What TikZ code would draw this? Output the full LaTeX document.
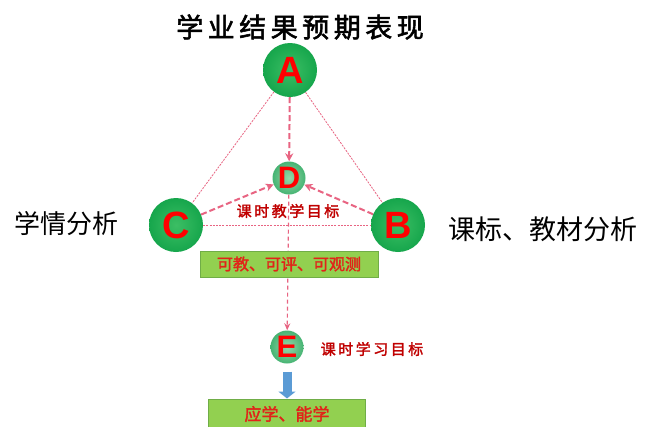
\documentclass[tikz,border=0pt]{standalone}
\usepackage{fontspec}
\setmainfont{Liberation Sans}
\newfontfamily\cjk{Noto Sans CJK SC}
\newfontfamily\cjkb[FakeBold=2]{Noto Sans CJK SC}
\usetikzlibrary{arrows.meta}
\definecolor{ballgreen}{RGB}{22,166,76}
\definecolor{ballgreenL}{RGB}{60,190,100}
\definecolor{smallgreen}{RGB}{70,180,115}
\definecolor{smallgreenL}{RGB}{150,215,170}
\definecolor{pinkline}{RGB}{232,100,130}
\definecolor{boxgreen}{RGB}{146,208,80}
\definecolor{boxedge}{RGB}{112,173,71}
\definecolor{labelred}{RGB}{192,0,0}
\definecolor{boxred}{RGB}{225,35,25}
\definecolor{letterred}{RGB}{255,0,0}
\definecolor{arrowblue}{RGB}{91,155,213}
\pgfdeclarelayer{bg}
\pgfdeclarelayer{paper}
\pgfsetlayers{paper,bg,main}
\tikzset{
  bigball/.style={circle, minimum size=54pt, inner sep=0pt, shading=radial,
    inner color=ballgreenL, outer color=ballgreen, text=letterred,
    font=\fontsize{38}{38}\selectfont\bfseries},
  smallball/.style={circle, minimum size=33pt, inner sep=0pt, shading=radial,
    inner color=smallgreenL, outer color=smallgreen, text=letterred,
    font=\fontsize{31}{31}\selectfont\bfseries},
  bigtext/.style={font=\fontsize{26}{26}\selectfont\cjk, text=black, inner sep=0pt},
  tag/.style={font=\fontsize{15}{15}\selectfont\cjkb, text=labelred, inner sep=0pt},
  greenbox/.style={draw=boxedge, line width=1pt, fill=boxgreen, inner sep=0pt,
    text=boxred, font=\fontsize{16}{16}\selectfont\cjkb},
  thinpink/.style={draw=pinkline, line width=0.8pt, dash pattern=on 2pt off 1.2pt},
  thickdash/.style={draw=pinkline, line width=2pt, dash pattern=on 6pt off 3pt,
    -{Stealth[length=8pt,width=8pt]}},
  thindash/.style={draw=pinkline, line width=1.2pt, dash pattern=on 4pt off 3pt,
    -{Stealth[length=7pt,width=6pt]}},
  bluearrow/.style={draw=arrowblue, line width=9pt,
    -{Triangle[length=7pt,width=17pt]}, shorten <=8pt}
}
\begin{document}
\begin{tikzpicture}[x=1pt,y=-1pt]
\useasboundingbox (0,0) rectangle (647,426);
\begin{pgfonlayer}{paper}
\fill[white] (0,0) rectangle (647,426);
\end{pgfonlayer}
\node[bigtext, font=\fontsize{27}{27}\selectfont\cjkb] (title) at (300,27) {学\,业\,结\,果\,预\,期\,表\,现};
\node[bigtext] (lefttext) at (66,224) {学情分析};
\node[bigtext, font=\fontsize{27}{27}\selectfont\cjk] (righttext) at (543,229) {课标、教材分析};
\node[bigball] (A) at (290,70) {A};
\node[bigball] (C) at (176,225) {C};
\node[bigball] (B) at (398,225) {B};
\node[smallball] (D) at (289,178) {D};
\node[smallball] (E) at (287,347) {E};
\node[tag] (teach) at (288,211) {课\,时\,教\,学\,目\,标};
\node[tag] (learn) at (372,349) {课\,时\,学\,习\,目\,标};
\node[greenbox, minimum width=178pt, minimum height=26pt] (box1) at (289,264) {可教、可评、可观测};
\node[greenbox, minimum width=157pt, minimum height=30pt, font=\fontsize{17}{17}\selectfont\cjkb] (box2) at (287,414) {应学、能学};
\begin{pgfonlayer}{bg}
\draw[thinpink] (A) -- (C);
\draw[thinpink] (A) -- (B);
\draw[thinpink] (C) -- (B);
\draw[thickdash] (A) -- (D);
\draw[thickdash] (C) -- (D);
\draw[thickdash] (B) -- (D);
\draw[thindash] (D) -- (E);
\end{pgfonlayer}
\draw[bluearrow] (E) -- (box2);
\end{tikzpicture}
\end{document}
